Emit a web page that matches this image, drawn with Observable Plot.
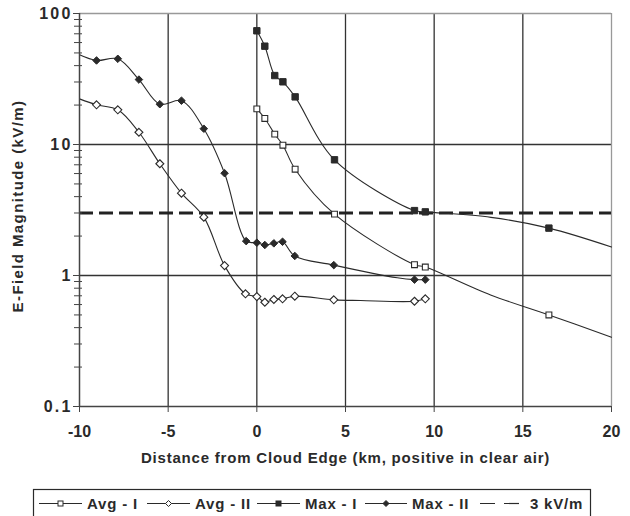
<!DOCTYPE html>
<html>
<head>
<meta charset="utf-8">
<script src="https://cdn.jsdelivr.net/npm/d3@7"></script>
<script src="https://cdn.jsdelivr.net/npm/@observablehq/plot@0.6"></script>
<style>
  html, body { margin: 0; padding: 0; background: #fff; }
  #chart { width: 630px; }
  svg { display: block; }
</style>
</head>
<body>
<div id="chart"></div>
<script>
// ---- data ----
const avgIX      = [0, 0.45, 1.01, 1.47, 2.16, 4.38, 8.89, 9.5, 13.18, 16.47, 20];
const avgIY      = [18.7, 15.8, 12.0, 9.88, 6.48, 2.94, 1.21, 1.16, 0.71, 0.50, 0.338];
const avgIMark   = [1, 1, 1, 1, 1, 1, 1, 1, 0, 1, 0];

const avgIIX     = [-10, -9.04, -7.84, -6.65, -5.47, -4.25, -2.99, -1.82, -0.64, 0, 0.45, 0.96, 1.45, 2.14, 4.34, 5.85, 8.89, 9.5];
const avgIIY     = [22.3, 20.1, 18.4, 12.4, 7.13, 4.25, 2.79, 1.19, 0.725, 0.69, 0.625, 0.656, 0.664, 0.695, 0.652, 0.644, 0.636, 0.664];
const avgIIMark  = [0, 1, 1, 1, 1, 1, 1, 1, 1, 1, 1, 1, 1, 1, 1, 0, 1, 1];

const maxIX      = [0, 0.45, 1.01, 1.47, 2.16, 4.38, 8.89, 9.5, 13.2, 16.47, 20];
const maxIY      = [73.8, 56.3, 33.6, 30.1, 23.1, 7.64, 3.13, 3.06, 2.78, 2.30, 1.65];
const maxIMark   = [1, 1, 1, 1, 1, 1, 1, 1, 0, 1, 0];

const maxIIX     = [-10, -9.04, -7.84, -6.65, -5.47, -4.25, -2.99, -1.82, -0.60, 0, 0.45, 0.96, 1.45, 2.14, 4.34, 7.92, 8.89, 9.5];
const maxIIY     = [48.4, 43.8, 45.1, 31.3, 20.3, 21.6, 13.2, 6.04, 1.83, 1.78, 1.71, 1.76, 1.81, 1.41, 1.2, 0.96, 0.93, 0.93];
const maxIIMark  = [0, 1, 1, 1, 1, 1, 1, 1, 1, 1, 1, 1, 1, 1, 1, 0, 1, 1];

const threshold  = [3];
const seriesNames = ["Avg - I", "Avg - II", "Max - I", "Max - II", "3 kV/m"];
const xTicks     = [-10, -5, 0, 5, 10, 15, 20];
const yTicks     = [0.1, 1, 10, 100];
const yMinor     = [0.2,0.3,0.4,0.5,0.6,0.7,0.8,0.9, 2,3,4,5,6,7,8,9, 20,30,40,50,60,70,80,90];
const xLabel     = "Distance from Cloud Edge (km, positive in clear air)";
const yLabel     = "E-Field Magnitude (kV/m)";

// ---- build tables ----
function rows(xs, ys, ms) { return xs.map((x, i) => ({x, y: ys[i], m: ms[i]})); }
const avgI  = rows(avgIX, avgIY, avgIMark);
const avgII = rows(avgIIX, avgIIY, avgIIMark);
const maxI  = rows(maxIX, maxIY, maxIMark);
const maxII = rows(maxIIX, maxIIY, maxIIMark);

const INK = "#2a2a2a";
const FONT = "'Liberation Sans', Arial, sans-serif";
const lineOpts = {x: "x", y: "y", curve: "catmull-rom", stroke: INK, strokeWidth: 1.1};

const chart = Plot.plot({
  width: 630,
  height: 480,
  marginTop: 13,
  marginBottom: 74,
  marginLeft: 79,
  marginRight: 19,
  style: {fontFamily: FONT, fontWeight: "bold", fontSize: "16px", color: INK, background: "#fff"},
  x: {domain: [-10, 20], ticks: xTicks},
  y: {type: "log", domain: [0.1, 100]},
  marks: [
    Plot.gridX([-5, 0, 5, 10, 15], {stroke: "#333", strokeOpacity: 1, strokeWidth: 1.3}),
    Plot.gridY([1, 10], {stroke: "#333", strokeOpacity: 1, strokeWidth: 1.3}),
    Plot.ruleY([100], {stroke: "#999", strokeWidth: 1.3}),
    Plot.ruleX([20], {stroke: "#999", strokeWidth: 1.3}),
    Plot.ruleY(threshold, {stroke: "#222", strokeWidth: 3, strokeDasharray: "14,6"}),
    Plot.line(avgI, lineOpts),
    Plot.line(avgII, lineOpts),
    Plot.line(maxI, lineOpts),
    Plot.line(maxII, lineOpts),
    Plot.dot(avgI.filter(d => d.m), {x: "x", y: "y", symbol: "square", r: 3.3, fill: "#fff", stroke: INK, strokeWidth: 1.1}),
    Plot.dot(avgII.filter(d => d.m), {x: "x", y: "y", symbol: "diamond2", r: 3.6, fill: "#fff", stroke: INK, strokeWidth: 1.1}),
    Plot.dot(maxI.filter(d => d.m), {x: "x", y: "y", symbol: "square", r: 3.6, fill: INK, stroke: INK, strokeWidth: 1}),
    Plot.dot(maxII.filter(d => d.m), {x: "x", y: "y", symbol: "diamond2", r: 3.4, fill: INK, stroke: INK, strokeWidth: 1}),
    Plot.ruleX([-10], {stroke: "#444", strokeWidth: 1.5}),
    Plot.ruleY([0.1], {stroke: "#444", strokeWidth: 1.5}),
    Plot.axisX({ticks: xTicks, tickSize: 6, tickPadding: 13, tickFormat: d => String(d), stroke: "#444", label: null}),
    Plot.axisY({ticks: yTicks, tickSize: 6, tickPadding: 1, tickFormat: d => String(d), stroke: "#444", label: null}),
    Plot.axisY({ticks: yMinor, tickSize: 8, dx: 3, tickFormat: () => "", label: null, stroke: "#444"}),
    Plot.text([xLabel], {frameAnchor: "bottom", dy: 56, text: d => d, fontSize: 15, fontWeight: "bold", fill: INK}),
    Plot.text([yLabel], {frameAnchor: "left", textAnchor: "middle", dx: -61, dy: -4, rotate: -90, text: d => d, fontSize: 15, fontWeight: "bold", fill: INK})
  ]
});
document.getElementById("chart").appendChild(chart);

// letter spacing tweaks to match the wide text of the reference
d3.select(chart).selectAll("text").each(function() {
  const t = this.textContent;
  if (t === xLabel) this.setAttribute("letter-spacing", "0.8px");
  else if (t === yLabel) this.setAttribute("letter-spacing", "1.4px");
  else if (yTicks.map(String).includes(t) && this.getAttribute("text-anchor") === "end") this.setAttribute("letter-spacing", "2.2px");
});
d3.select(chart).selectAll("[aria-label='y-axis tick label'] text").attr("letter-spacing", "2.2px");

// ---- legend ----
const leg = d3.select("#chart").append("svg").attr("width", 630).attr("height", 36)
  .style("font-family", FONT).style("font-weight", "bold").style("font-size", "15px").style("letter-spacing", "0.8px");
leg.append("rect").attr("x", 33.5).attr("y", 9.5).attr("width", 557).attr("height", 40)
  .attr("fill", "none").attr("stroke", INK).attr("stroke-width", 1.2);
const items = [
  {x1: 39, x2: 82, tx: 87, sym: "sq", fill: "#fff"},
  {x1: 147, x2: 190, tx: 195, sym: "dm", fill: "#fff"},
  {x1: 257, x2: 300, tx: 305, sym: "sq", fill: INK},
  {x1: 365, x2: 407, tx: 412, sym: "dm", fill: INK},
  {x1: 480, x2: 519, tx: 530, sym: "dash"}
];
items.forEach((it, i) => {
  const cy = 23.5;
  const g = leg.append("g");
  if (it.sym === "dash") {
    g.append("line").attr("x1", it.x1).attr("x2", it.x2).attr("y1", cy).attr("y2", cy)
      .attr("stroke", INK).attr("stroke-width", 1.2).attr("stroke-dasharray", "15,9");
  } else {
    g.append("line").attr("x1", it.x1).attr("x2", it.x2).attr("y1", cy).attr("y2", cy)
      .attr("stroke", INK).attr("stroke-width", 1.2);
    const mx = (it.x1 + it.x2) / 2;
    if (it.sym === "sq") {
      g.append("rect").attr("x", mx - 2.5).attr("y", cy - 2.5).attr("width", 5).attr("height", 5)
        .attr("fill", it.fill).attr("stroke", INK).attr("stroke-width", 1);
    } else {
      g.append("path").attr("d", `M${mx},${cy-3}L${mx+3},${cy}L${mx},${cy+3}L${mx-3},${cy}Z`)
        .attr("fill", it.fill).attr("stroke", INK).attr("stroke-width", 1);
    }
  }
  g.append("text").attr("x", it.tx).attr("y", cy + 5.5).attr("fill", INK).text(seriesNames[i]);
});
</script>
</body>
</html>
